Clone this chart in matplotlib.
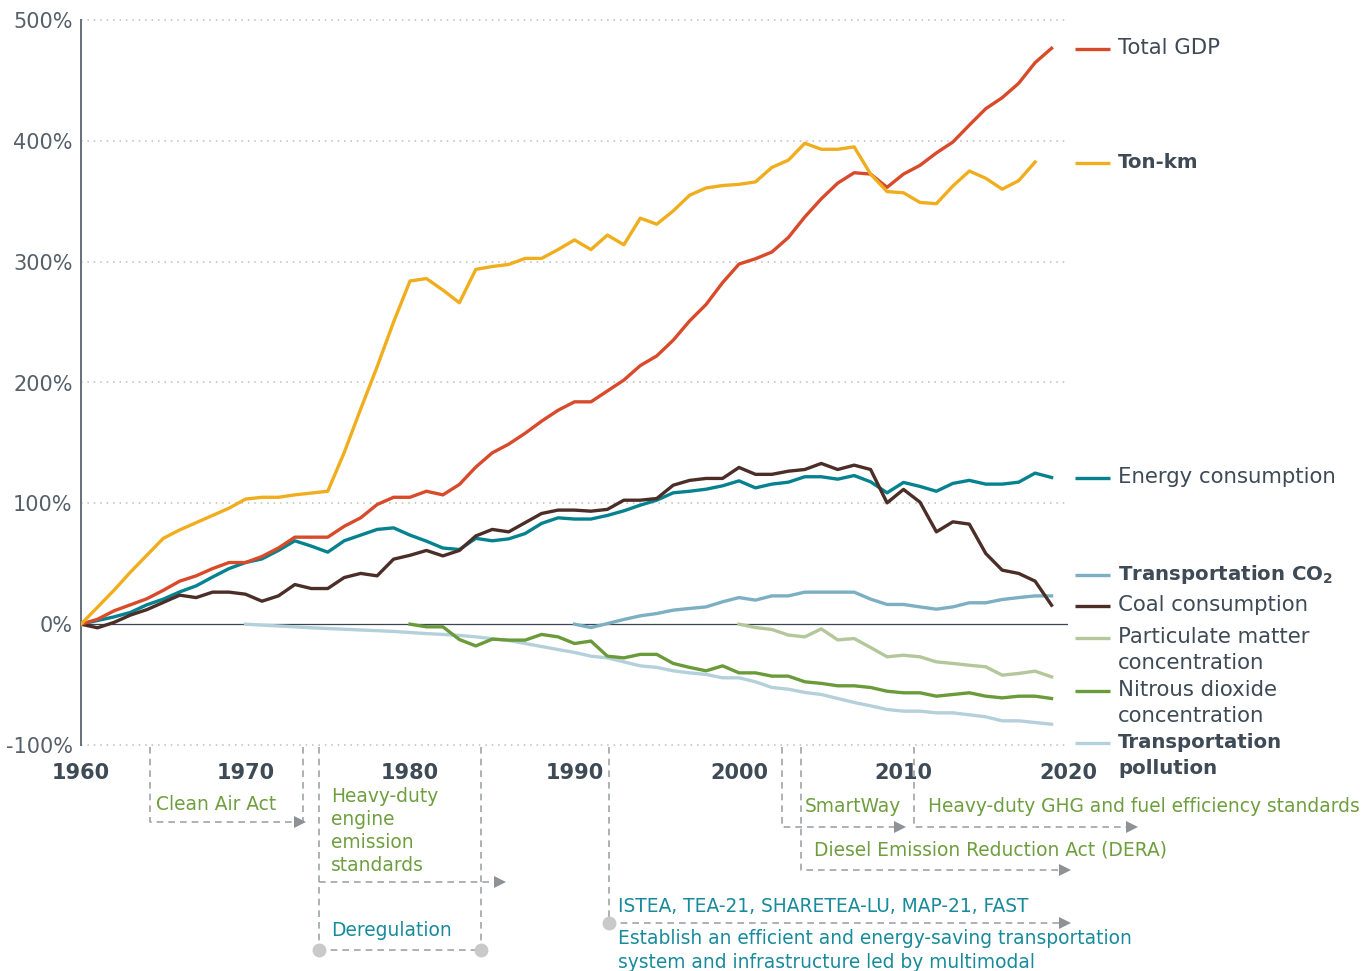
import matplotlib
matplotlib.use("Agg")
import matplotlib.pyplot as plt
import numpy as np

plt.rcParams['font.family'] = ['DejaVu Sans']
plt.rcParams['mathtext.fontset'] = 'custom'
plt.rcParams['mathtext.bf'] = 'DejaVu Sans:bold'
plt.rcParams['mathtext.rm'] = 'DejaVu Sans'

# ---------------- data (% change) ----------------
years_gdp = list(range(1960, 2020))
total_gdp = [0, 4, 11, 16, 21, 28, 35.6, 40, 46, 51,
             51, 56, 63, 72, 72, 72, 81, 88, 99, 105,
             105, 110, 107, 115.6, 130, 141.8, 149, 158, 168, 177,
             184, 184, 193, 202, 214, 222, 235, 251, 264.6, 282.6,
             298, 302.4, 308, 320, 337, 352, 365, 373.6, 372.5, 361.5,
             372.5, 379.7, 390, 399, 413, 426.6, 435.7, 447.6, 464.7, 476.6]

years_ton = list(range(1960, 2019))
ton_km = [0, 14, 28, 43, 57, 71, 78, 84, 90, 96,
          103.5, 105, 105, 107, 108.5, 110, 142, 178, 213, 250,
          284, 286, 276.5, 266, 293.6, 296, 297.7, 302.7, 302.7, 310,
          318, 310, 322, 314, 336, 331, 342, 355, 361, 363,
          364, 366, 378, 384, 398, 393, 393, 395, 372.5, 358,
          357, 349, 348, 362.6, 375, 369, 360, 367, 382.5]

years_energy = list(range(1960, 2020))
energy = [0, 3, 6, 9.7, 16, 20.7, 26.7, 31.7, 39, 46,
          51, 54, 61, 69, 64.6, 59.6, 69, 73.7, 78.4, 79.7,
          73.7, 68.7, 63, 61.8, 71, 69, 70.6, 75, 83.4, 88,
          87, 87, 90, 93.8, 98.5, 102.6, 108.7, 110, 111.7, 114.5,
          118.6, 112.8, 115.9, 117.5, 122, 122, 120, 123, 117.8, 108.7,
          117.3, 114, 110, 116.5, 119, 115.9, 115.9, 117.5, 125, 121.4]

years_coal = list(range(1960, 2020))
coal = [0, -3, 1.4, 7.5, 12, 18, 24, 22, 26.5, 26.5,
        24.8, 19, 23.4, 32.8, 29.5, 29.5, 38.6, 42, 40, 53.8,
        57, 61, 56.5, 61, 73, 78.4, 76.4, 84, 91.6, 94.4,
        94.4, 93.5, 95, 102.6, 102.6, 104, 115, 119, 120.6, 120.6,
        129.7, 124, 124, 126.6, 128, 133, 128, 131.6, 128, 100.4,
        111.5, 101, 76.4, 84.7, 82.8, 58.5, 44.7, 42, 35.6, 15.7]

years_co2 = list(range(1990, 2020))
transport_co2 = [0, -2.8, 0.5, 3.9, 6.9, 8.8, 11.6, 13, 14.3, 18.5,
                 22, 19.9, 23.4, 23.4, 26.5, 26.5, 26.5, 26.5, 20.7, 16.3,
                 16.3, 14.3, 12.4, 14.3, 17.7, 17.7, 20.4, 22, 23.4, 23.4]

years_pm = list(range(2000, 2020))
pm = [0, -2.8, -4.4, -9, -10.5, -3.9, -13, -11.9, -19.3, -27,
      -25.7, -27, -31.2, -32.5, -34, -35.3, -42.2, -40.8, -38.9, -43.6]

years_no2 = list(range(1980, 2020))
no2 = [0, -2.2, -2.2, -12.7, -18, -12.4, -13.2, -13.2, -8.5, -10.5,
       -16, -14, -26.5, -27.9, -25, -25, -32.5, -35.8, -38.6, -34.5,
       -40.3, -40.3, -43, -43, -47.7, -49, -51, -51, -52.4, -55.5,
       -56.8, -56.8, -59.6, -58.2, -56.8, -59.6, -61, -59.6, -59.6, -61.5]

years_poll = list(range(1970, 2020))
transport_poll = [0, -0.8, -1.5, -2.2, -3, -3.6, -4.2, -4.8, -5.4, -6,
                  -6.9, -7.8, -8.5, -9.3, -10.5, -12, -13.5, -16, -18.5, -21,
                  -23.4, -26.5, -27.9, -31.2, -34.5, -35.8, -38.6, -40.3, -41.6, -44.4,
                  -44.4, -47.7, -52.4, -53.8, -56.5, -58.2, -61.5, -64.8, -67.6, -70.6,
                  -72, -72, -73.4, -73.4, -75, -76.7, -80, -80, -81.4, -82.8]

y_ticks = [-100, 0, 100, 200, 300, 400, 500]
y_tick_labels = ["-100%", "0%", "100%", "200%", "300%", "400%", "500%"]
x_ticks = [1960, 1970, 1980, 1990, 2000, 2010, 2020]
x_tick_labels = ["1960", "1970", "1980", "1990", "2000", "2010", "2020"]

C_GDP = "#D84A2A"
C_TON = "#F0AE1E"
C_ENERGY = "#05828F"
C_CO2 = "#7DAFC3"
C_COAL = "#4B2E27"
C_PM = "#B3C79A"
C_NO2 = "#6A9A3A"
C_POLL = "#B4D0DB"
TXT = "#3E4A55"
ANN_GREEN = "#6E9E3E"
ANN_TEAL = "#178A9B"
DASH = "#A0A4A8"

W, H = 1368, 971
fig = plt.figure(figsize=(W / 100, H / 100), dpi=100)
ax = fig.add_axes([81 / W, 1 - 745 / H, (1068 - 81) / W, (745 - 20) / H])

lw = 2.4
ax.plot(years_poll, transport_poll, color=C_POLL, lw=lw, zorder=3)
ax.plot(years_no2, no2, color=C_NO2, lw=lw, zorder=3)
ax.plot(years_pm, pm, color=C_PM, lw=lw, zorder=3)
ax.plot(years_co2, transport_co2, color=C_CO2, lw=lw, zorder=3)
ax.plot(years_energy, energy, color=C_ENERGY, lw=lw, zorder=4)
ax.plot(years_coal, coal, color=C_COAL, lw=lw, zorder=4)
ax.plot(years_gdp, total_gdp, color=C_GDP, lw=lw, zorder=5)
ax.plot(years_ton, ton_km, color=C_TON, lw=lw, zorder=5)

ax.set_xlim(1960, 2020)
ax.set_ylim(-100, 500)
ax.set_yticks(y_ticks)
ax.set_yticklabels(y_tick_labels)
ax.set_xticks(x_ticks)
ax.set_xticklabels(x_tick_labels, fontweight='bold')
for v in y_ticks:
    if v != 0:
        ax.axhline(v, color="#BDBDBD", lw=1.1, ls=(0, (1, 3.2)), zorder=1, clip_on=False)
ax.axhline(0, color="#3A4550", lw=0.9, zorder=2)
for s in ['top', 'right', 'bottom']:
    ax.spines[s].set_visible(False)
ax.spines['left'].set_color("#66707A")
ax.spines['left'].set_linewidth(1.4)
ax.tick_params(axis='y', length=0, pad=6, labelsize=15, labelcolor="#55606A")
ax.tick_params(axis='x', length=0, pad=13, labelsize=15, labelcolor=TXT)

# ---------------- overlay in pixel coordinates ----------------
ov = fig.add_axes([0, 0, 1, 1], zorder=10)
ov.set_xlim(0, W)
ov.set_ylim(H, 0)
ov.axis('off')
ov.patch.set_alpha(0)

# legend labels at line ends
legend_items = [
    (48, C_GDP, ["Total GDP"], 'normal'),
    (162, C_TON, ["Ton-km"], 'bold'),
    (477, C_ENERGY, ["Energy consumption"], 'normal'),
    (574, C_CO2, [r"Transportation CO$_{\mathregular{2}}$"], 'bold'),
    (605, C_COAL, ["Coal consumption"], 'normal'),
    (637, C_PM, ["Particulate matter", "concentration"], 'normal'),
    (690, C_NO2, ["Nitrous dioxide", "concentration"], 'normal'),
    (742, C_POLL, ["Transportation", "pollution"], 'bold'),
]
for y, c, lines, wt in legend_items:
    ov.plot([1075, 1110], [y + 1, y + 1], color=c, lw=lw, solid_capstyle='butt')
    fs = 14.2 if wt == 'bold' else 15.3
    for i, t in enumerate(lines):
        ov.text(1118, y + i * 26, t, color=TXT, fontsize=fs, fontweight=wt,
                va='center', ha='left')


def dline(xs, ys):
    ov.plot(xs, ys, color=DASH, lw=1.2, ls=(0, (4, 3)))


def arrow_end(x, y):
    ov.plot([x], [y], marker='>', color="#8E9297", markersize=8, markeredgewidth=0)


def dot(x, y):
    ov.plot([x], [y], marker='o', color="#C9C9C9", markersize=10, markeredgewidth=0)


AFS = 13.4
top = 747
# Clean Air Act
dline([150, 150, 299], [top, 822, 822])
dline([303, 303], [top, 822])
arrow_end(300, 822)
ov.text(156, 805, "Clean Air Act", color=ANN_GREEN, fontsize=AFS, va='center')

# Heavy-duty engine emission standards / Deregulation
dline([319, 319], [top, 950])
dline([319, 499], [882, 882])
arrow_end(500, 882)
dline([481, 481], [top, 950])
dline([319, 481], [950, 950])
dot(319, 950)
dot(481, 950)
for i, t in enumerate(["Heavy-duty", "engine", "emission", "standards"]):
    ov.text(331, 797 + i * 22.7, t, color=ANN_GREEN, fontsize=AFS, va='center')
ov.text(331, 931, "Deregulation", color=ANN_TEAL, fontsize=AFS, va='center')

# ISTEA ...
dline([609, 609], [top, 923])
dline([609, 1064], [923, 923])
arrow_end(1065, 923)
dot(609, 923)
ov.text(618, 906, "ISTEA, TEA-21, SHARETEA-LU, MAP-21, FAST", color=ANN_TEAL, fontsize=AFS, va='center')
ov.text(618, 939, "Establish an efficient and energy-saving transportation", color=ANN_TEAL, fontsize=AFS, va='center')
ov.text(618, 962, "system and infrastructure led by multimodal", color=ANN_TEAL, fontsize=AFS, va='center')

# SmartWay
dline([782, 782, 899], [top, 827, 827])
arrow_end(900, 827)
ov.text(805, 806, "SmartWay", color=ANN_GREEN, fontsize=AFS, va='center')

# DERA
dline([801, 801, 1064], [top, 870, 870])
arrow_end(1065, 870)
ov.text(814, 850, "Diesel Emission Reduction Act (DERA)", color=ANN_GREEN, fontsize=AFS, va='center')

# Heavy-duty GHG
dline([914, 914, 1131], [top, 827, 827])
arrow_end(1132, 827)
ov.text(928, 806, "Heavy-duty GHG and fuel efficiency standards", color=ANN_GREEN, fontsize=AFS, va='center')

fig.savefig("out.png", dpi=100)
